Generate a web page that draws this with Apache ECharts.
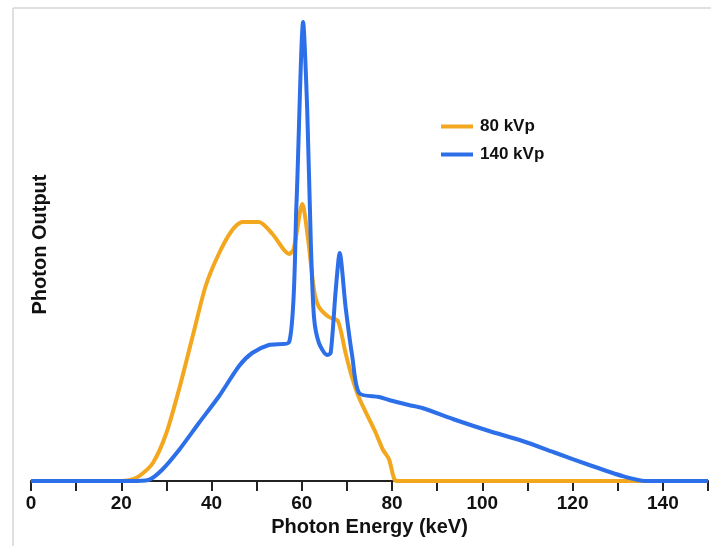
<!DOCTYPE html>
<html>
<head>
<meta charset="utf-8">
<script src="https://cdn.jsdelivr.net/npm/echarts@6/dist/echarts.min.js"></script>
<style>
  html, body { margin: 0; padding: 0; background: #fff; }
  #chart { width: 711px; height: 546px; }
</style>
</head>
<body>
<div id="chart"></div>
<script>
// 80 kVp spectrum (keV, relative output)
const energy80 = [20, 22, 24, 27, 30, 33, 36, 38.7, 41.7, 44.6, 46.8, 50.5, 53.5, 57.2, 58.2, 60.1, 61.6, 62.7, 63.8, 66, 68, 69.7, 71.1, 72.7, 76.4, 78, 79.3, 80.4, 81, 137];
const output80 = [0, 1, 5, 18, 48, 95, 148, 195, 228, 251, 259, 259, 247, 227, 232, 277, 234, 191, 174, 164, 160, 128, 104, 83, 48, 31, 22, 3, 0, 0];

// 140 kVp spectrum
const energy140 = [0, 22, 26, 29, 32.8, 37.2, 41.7, 46.1, 49, 52.7, 57.2, 58.8, 60.3, 61.2, 62, 62.7, 63.8, 65.6, 66.4, 67.5, 68.4, 69.7, 71.2, 72.7, 77.1, 79.3, 83.7, 86.7, 94.1, 101.5, 108.9, 116.3, 123.7, 131, 136.2, 150];
const output140 = [0, 0, 1, 11, 31, 58, 85, 115, 128, 136, 139, 275, 459, 371, 238, 164, 138, 126, 128, 190, 228, 174, 124, 88, 84, 81, 76, 73, 61, 50, 40, 28, 16, 5, 0, 0];

const tickLabels = [0, 20, 40, 60, 80, 100, 120, 140];

const pairs = (xs, ys) => xs.map((x, i) => [x, ys[i]]);

const chart = echarts.init(document.getElementById('chart'));
const font = 'Liberation Sans, Arial, sans-serif';

chart.setOption({
  animation: false,
  graphic: [
    { type: 'line', shape: { x1: 13, y1: 8, x2: 711, y2: 8 }, style: { stroke: '#d6d6d6', lineWidth: 1.5 }, z: -1 },
    { type: 'line', shape: { x1: 13, y1: 8, x2: 13, y2: 546 }, style: { stroke: '#d6d6d6', lineWidth: 1.5 }, z: -1 }
  ],
  grid: { left: 31, right: 1, top: 8, bottom: 65 },
  legend: {
    orient: 'vertical',
    left: 436,
    top: 113,
    itemWidth: 32,
    itemHeight: 4,
    itemGap: 11,
    icon: 'rect',
    textStyle: { fontFamily: font, fontWeight: 'bold', fontSize: 17, color: '#111', padding: [0, 0, 0, 2] },
    data: ['80 kVp', '140 kVp']
  },
  xAxis: {
    type: 'value',
    min: 0,
    max: 150,
    interval: 10,
    name: 'Photon Energy (keV)',
    nameLocation: 'middle',
    nameGap: 35,
    nameTextStyle: { fontFamily: font, fontWeight: 'bold', fontSize: 20, color: '#111' },
    splitLine: { show: false },
    axisLine: { lineStyle: { color: '#222', width: 2 } },
    axisTick: { length: 10, lineStyle: { color: '#222', width: 2 } },
    axisLabel: {
      margin: 13,
      fontFamily: font,
      fontWeight: 'bold',
      fontSize: 19,
      color: '#111',
      formatter: v => tickLabels.includes(v) ? String(v) : ''
    }
  },
  yAxis: {
    type: 'value',
    min: 0,
    max: 473,
    name: 'Photon Output',
    nameLocation: 'middle',
    nameGap: -19,
    nameTextStyle: { fontFamily: font, fontWeight: 'bold', fontSize: 20, color: '#111' },
    axisLine: { show: false },
    axisTick: { show: false },
    axisLabel: { show: false },
    splitLine: { show: false }
  },
  series: [
    {
      name: '80 kVp',
      type: 'line',
      data: pairs(energy80, output80),
      showSymbol: false,
      smooth: 0.25,
      color: '#f2a71e',
      lineStyle: { width: 4, color: '#f2a71e' },
      z: 2
    },
    {
      name: '140 kVp',
      type: 'line',
      data: pairs(energy140, output140),
      showSymbol: false,
      smooth: 0.25,
      color: '#2c6fe8',
      lineStyle: { width: 4, color: '#2c6fe8' },
      z: 3
    }
  ]
});
</script>
</body>
</html>
